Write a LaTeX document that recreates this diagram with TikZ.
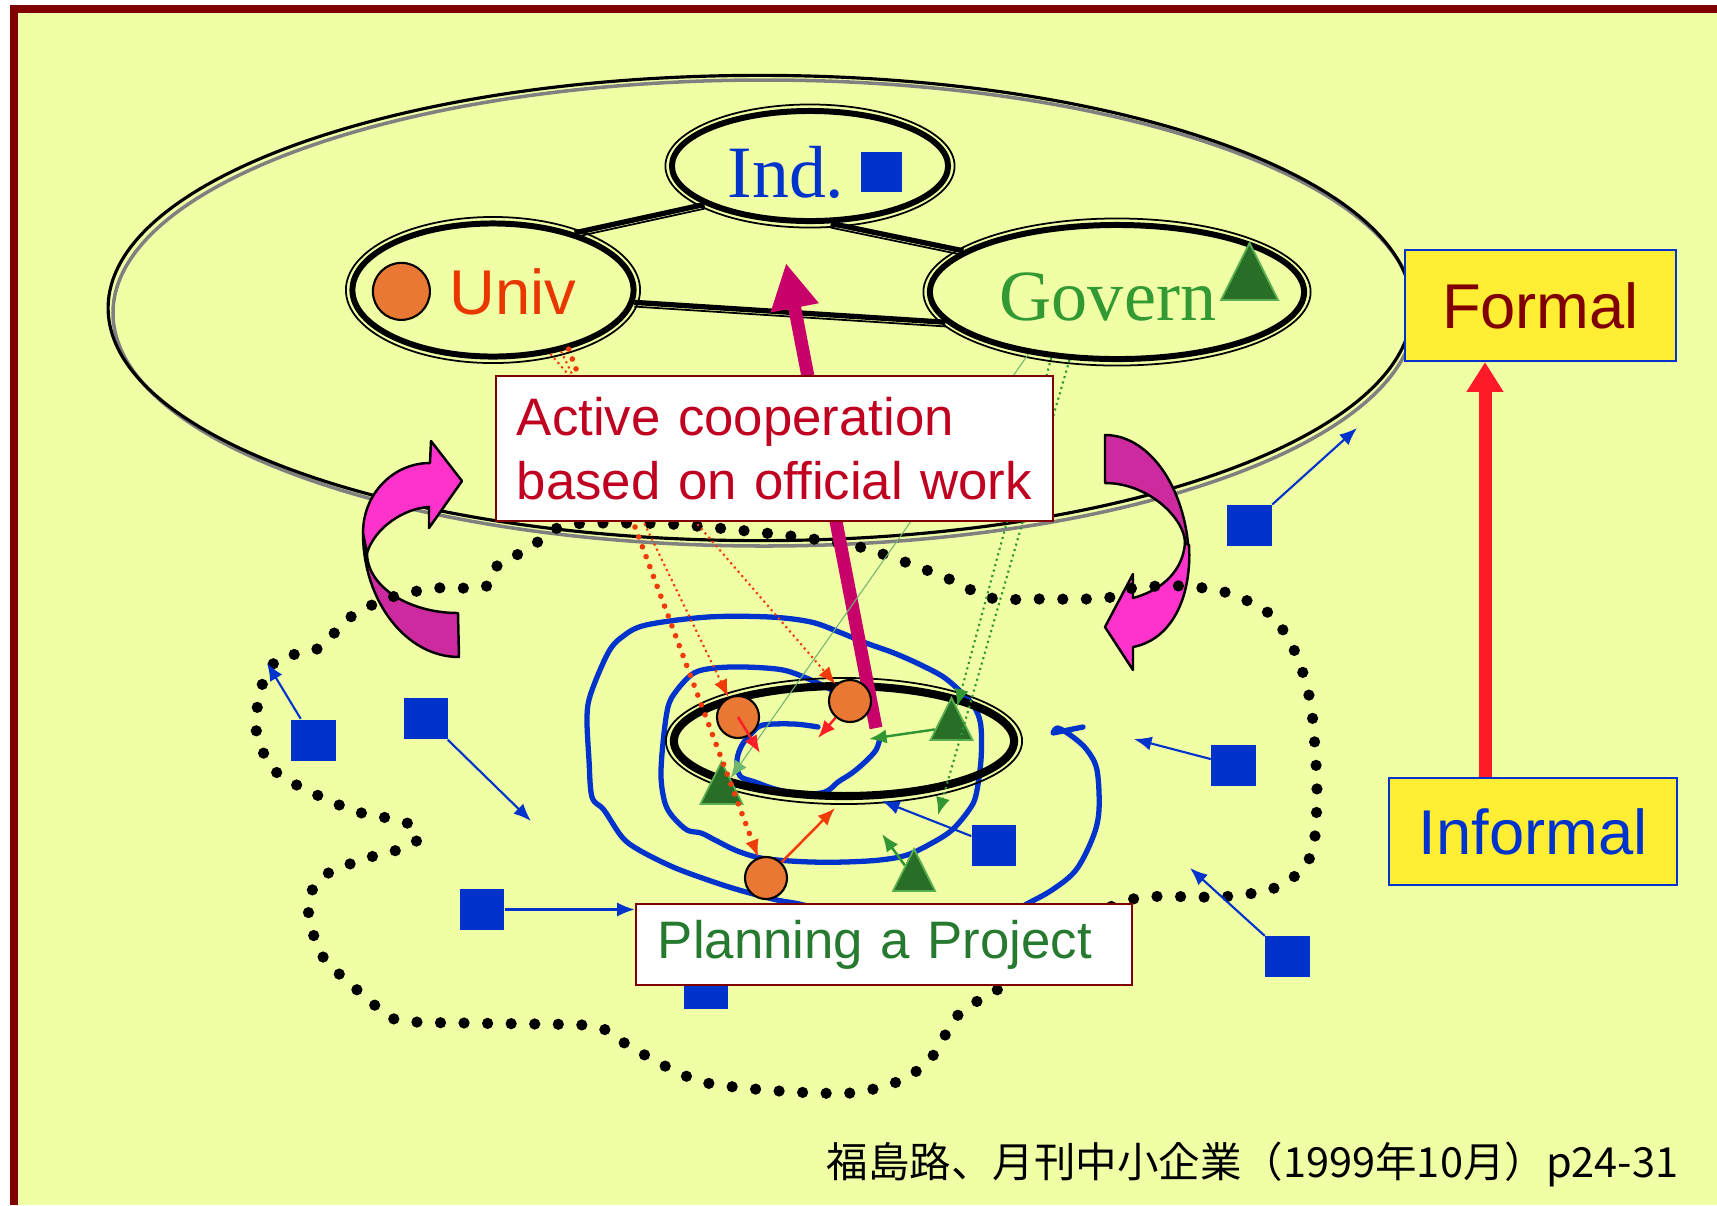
\documentclass[tikz,border=0pt]{standalone}
\usepackage{fontspec}
\setmainfont{Liberation Sans}
\newfontfamily\romanfont{Liberation Serif}
\newfontfamily\jpfont{Noto Sans CJK JP}
\usetikzlibrary{shapes, calc, arrows.meta, positioning}

\definecolor{paper}{RGB}{240,255,166}
\definecolor{framered}{RGB}{128,0,0}
\definecolor{indblue}{RGB}{0,51,204}
\definecolor{univred}{RGB}{232,56,0}
\definecolor{orangeball}{RGB}{232,120,52}
\definecolor{govgreen}{RGB}{51,153,51}
\definecolor{leaf}{RGB}{40,110,38}
\definecolor{leafedge}{RGB}{90,175,80}
\definecolor{signyellow}{RGB}{255,238,51}
\definecolor{coopred}{RGB}{192,0,32}
\definecolor{plangreen}{RGB}{38,122,48}
\definecolor{pushpink}{RGB}{200,0,106}
\definecolor{hotpink}{RGB}{255,51,204}
\definecolor{deeppink}{RGB}{204,42,158}
\definecolor{liftred}{RGB}{255,26,42}
\definecolor{arrowred}{RGB}{255,30,40}
\definecolor{dotred}{RGB}{240,60,10}
\definecolor{linegreen}{RGB}{50,150,50}

\begin{document}
\begin{tikzpicture}[x=0.01cm, y=-0.01cm, >={Latex[length=5pt, width=4pt]}, node distance=0cm,
    ring/.style={draw, ellipse, line width=1.7pt, inner sep=0},
    rim/.style={draw, ellipse, line width=0.5pt, inner sep=0},
    tie/.style={line width=1.5pt},
    tieshade/.style={line width=0.5pt, transform canvas={yshift=-1.2pt}},
    ball/.style={circle, draw, fill=orangeball, line width=0.6pt, minimum size=0.42cm, inner sep=0},
    tri/.style={isosceles triangle, shape border rotate=90, isosceles triangle stretches, draw=leafedge, fill=leaf, line width=0.5pt, minimum width=0.42cm, minimum height=0.42cm, inner sep=0},
    sq/.style={fill=indblue, minimum width=0.44cm, minimum height=0.41cm, inner sep=0},
    notebox/.style={draw=framered, fill=white, line width=0.6pt, align=left, font=\fontsize{15}{18.2}\selectfont},
    signbox/.style={draw=indblue, fill=signyellow, line width=0.6pt, font=\fontsize{18}{18}\selectfont},
    bluearr/.style={->, indblue, line width=0.6pt},
    smallarr/.style={->, line width=0.7pt},
    curl/.style={draw=black, line width=0.7pt, line join=round},
    dotline/.style={line width=3.2pt, line cap=round, dash pattern=on 0pt off 6.7pt},
    scribble/.style={indblue, line width=1.5pt, line cap=round, line join=round}
]
    \useasboundingbox (0,0) rectangle (1717,1205);
    \fill[white] (0,0) rectangle (1717,1205);
    \fill[paper] (14,9) rectangle (1717,1205);
    \draw[framered, line width=2.3pt] (14,1205) -- (14,9) -- (1717,9);

    % formal world
    \draw[gray, line width=1pt] (764,313) ellipse (651 and 233);
    \node[ellipse, draw, line width=0.9pt, minimum width=13.03cm, minimum height=4.65cm] (realm) at (760,308) {};

    \node[ring, minimum width=2.76cm, minimum height=1.10cm] (ind) at (810,166) {};
    \node[rim, minimum width=2.89cm, minimum height=1.23cm] (ind-rim) at (ind) {};
    \node[ring, minimum width=2.81cm, minimum height=1.33cm] (univ) at (493,290) {};
    \node[rim, minimum width=2.94cm, minimum height=1.46cm] (univ-rim) at (univ) {};
    \node[ring, minimum width=3.74cm, minimum height=1.34cm] (gov) at (1117,292) {};
    \node[rim, minimum width=3.87cm, minimum height=1.47cm] (gov-rim) at (gov) {};
    \foreach \a/\b in {univ.35/ind.200, ind.-70/gov.165, univ.-5/gov.190} {
        \draw[tie] (\a) -- (\b);
        \draw[tieshade] (\a) -- (\b);
    }

    \node[anchor=base, inner sep=0, text=indblue, font=\romanfont\fontsize{21}{21}\selectfont] (indlabel) at (786,197) {Ind.};
    \node[sq, minimum width=0.41cm, minimum height=0.40cm, right=0.15cm of indlabel] (indmark) {};
    \node[anchor=base, inner sep=0, text=univred, font=\fontsize{18}{18}\selectfont] (univlabel) at (513,314) {Univ};
    \node[ball, minimum size=0.57cm, left=0.18cm of univlabel] (univmark) {};
    \node[anchor=base, inner sep=0, text=govgreen, font=\romanfont\fontsize{20.5}{20.5}\selectfont] (govlabel) at (1108,320) {Govern};
    \node[tri, minimum width=0.57cm, minimum height=0.57cm, right=0.12cm of govlabel, yshift=0.14cm] (govmark) {};

    % turning arrows
    \filldraw[curl, fill=deeppink] (363,533) .. controls (363,601) and (406,657) .. (459,657) -- (458,613)
        .. controls (408,613) and (367,586) .. (367,553) -- cycle;
    \filldraw[curl, fill=hotpink] (363,533) .. controls (363,494) and (393,463) .. (430,463) -- (431,441) -- (462,481)
        -- (429,528) -- (429,507) .. controls (405,508) and (375,527) .. (367,553) -- cycle;
    \filldraw[curl, fill=deeppink] (1105,435) .. controls (1151,435) and (1189,492) .. (1189,563) -- (1185,543)
        .. controls (1185,519) and (1149,483) .. (1105,483) -- cycle;
    \filldraw[curl, fill=hotpink] (1189,545) .. controls (1192,600) and (1170,640) .. (1133,647) -- (1133,670)
        -- (1105,627) -- (1133,574) -- (1133,598) .. controls (1163,590) and (1183,570) .. (1185,543) -- cycle;

    % informal world
    \draw[dotline] plot[smooth cycle, tension=0.5] coordinates {
        (485,587) (497,566) (515,556) (535,544) (553,530) (574,524) (621,523) (670,524) (717,528)
        (765,533) (813,539) (860,547) (905,562) (949,579) (991,598) (1040,599) (1088,599) (1112,597)
        (1133,588) (1182,586) (1228,593) (1271,615) (1296,654) (1310,700) (1315,748) (1317,796)
        (1314,844) (1305,866) (1288,881) (1265,891) (1219,897) (1146,897) (1105,910) (1040,960)
        (1000,988) (959,1014) (935,1053) (918,1070) (897,1082) (851,1093) (779,1091) (707,1083)
        (667,1067) (626,1044) (606,1030) (583,1025) (536,1024) (464,1023) (416,1022) (392,1018)
        (355,988) (321,954) (308,909) (314,887) (332,871) (377,855) (405,848) (419,837) (405,822)
        (358,812) (315,794) (274,770) (256,729) (263,682) (280,658) (317,649) (352,616) (392,597)
        (438,588)};

    \draw[scribble] plot[smooth, tension=0.55] coordinates {
        (818,727) (794,724) (763,725) (752,733) (742,745) (737,760) (740,776) (755,782) (775,789)
        (800,794) (825,792) (838,782) (852,773) (865,762) (876,750) (880,738)};
    \draw[scribble] plot[smooth, tension=0.55] coordinates {
        (832,690) (811,680) (783,670) (745,667) (715,668) (694,673) (677,690) (668,707) (663,743)
        (661,777) (665,803) (673,817) (687,830) (701,833) (715,840) (735,850) (756,857) (777,860)
        (811,862) (845,862) (880,860) (907,855) (932,843) (952,830) (969,810) (976,795) (981,760)
        (981,727) (976,710) (966,697) (945,678) (921,665) (894,653) (866,643) (839,632) (811,622)
        (770,617) (708,617) (646,625) (622,637) (608,653) (591,693) (587,717) (589,760) (592,797)
        (604,810) (622,837) (639,850) (673,867) (708,880) (739,890) (777,900) (811,907) (900,935)
        (990,925) (1025,905) (1052,890) (1076,870) (1093,837) (1099,810) (1097,770) (1087,750)
        (1073,737) (1058,728) (1053,733)} -- (1083,727);

    \node[ring, line width=2.3pt, minimum width=3.40cm, minimum height=1.10cm] (proj) at (844,741) {};
    \node[rim, minimum width=3.56cm, minimum height=1.26cm] (proj-rim) at (proj) {};

    \coordinate (pushfoot) at (876,728);
    \coordinate (pushtip) at (786,263);
    \draw[pushpink, line width=3.7pt, -{Triangle[width=13pt, length=13pt]}] (pushfoot) -- (pushtip);

    \node[ball] (u1) at (738,717) {};
    \node[ball] (u2) at (850,701) {};
    \node[ball] (u3) at (766,878) {};
    \node[tri] (g1) at (951.5,727) {};
    \node[tri] (g2) at (721.5,791) {};
    \node[tri] (g3) at (914,878) {};

    \foreach \n/\x/\y in {1/313.5/740, 2/426/718.5, 3/482/909.5, 4/1249.5/525, 5/1233.5/765, 6/1287.5/956.5, 7/994/845, 8/706/988}
        \node[sq] (s\n) at (\x,\y) {};
    \foreach \n/\x/\y in {1/267/663, 2/531/821, 4/1357/428, 5/1134/739, 6/1190/868, 7/882/801}
        \coordinate (s\n-end) at (\x,\y);

    % ties from the formal side
    \draw[->, dotred, line width=1.6pt, line cap=round, dash pattern=on 0pt off 3pt] (univ.-38) -- (u3);
    \draw[->, dotred, line width=0.6pt, densely dotted] (univ.-42) -- (u1);
    \draw[->, dotred, line width=0.6pt, densely dotted] (univ.-48) -- (u2);
    \coordinate (govdrop) at (938,815);
    \draw[->, linegreen, line width=0.6pt, densely dotted] (gov.-135) -- (g1);
    \draw[->, linegreen, line width=0.6pt, densely dotted] (gov.-125) -- (govdrop);
    \draw[->, linegreen!70, line width=0.3pt] (gov.-145) -- (g2);

    \coordinate (u1-end) at (760,753);
    \coordinate (u2-end) at (818,738);
    \coordinate (u3-end) at (835,808);
    \coordinate (g1-end) at (869,739);
    \coordinate (g3-end) at (882,834);
    \draw[smallarr, arrowred] (u1.center) -- (u1-end);
    \draw[smallarr, arrowred] (u2) -- (u2-end);
    \draw[smallarr, dotred] (u3) -- (u3-end);
    \draw[smallarr, linegreen] (g1) -- (g1-end);
    \draw[smallarr, linegreen] (g3) -- (g3-end);

    \foreach \n in {1,2,4,5,6,7}
        \draw[bluearr] (s\n) -- (s\n-end);

    \node[notebox, text=coopred, text width=5.15cm, minimum height=1.45cm, inner xsep=0.21cm] (coop) at (774.5,448.5) {Active cooperation\\based on official work};
    \node[notebox, text=plangreen, text width=4.52cm, minimum height=0.81cm, inner xsep=0.22cm] (plan) at (884,944.5) {Planning a Project};
    \draw[bluearr] (s3) -- (s3 -| plan.west);

    % formal / informal
    \node[signbox, text=framered, minimum width=2.71cm, minimum height=1.11cm] (formal) at (1540.5,305.5) {Formal};
    \node[signbox, text=indblue, minimum width=2.88cm, minimum height=1.07cm] (informal) at (1533,831.5) {Informal};
    \draw[liftred, line width=3.7pt, -{Triangle[width=10pt, length=8.5pt]}] ($(informal.north)+(-48,0)$) -- ($(formal.south)+(-55.5,0)$);

    \node[anchor=base east, inner sep=0, font=\jpfont\fontsize{11.8}{11.8}\selectfont] (cite) at (1679,1177) {福島路、月刊中小企業（1999年10月）p24-31};
\end{tikzpicture}
\end{document}
